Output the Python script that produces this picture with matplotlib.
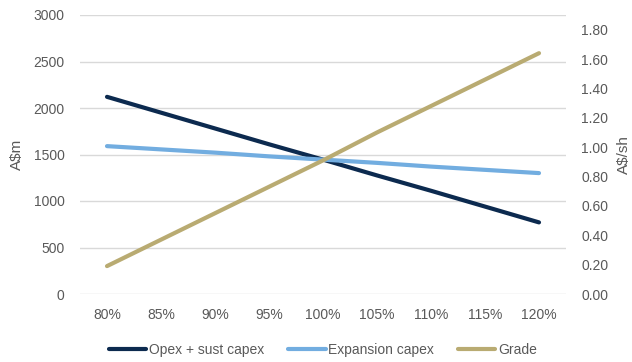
import matplotlib.pyplot as plt
import numpy as np

plt.rcParams['font.family'] = ['Liberation Sans', 'DejaVu Sans']

categorias = ["80%", "85%", "90%", "95%", "100%", "105%", "110%", "115%", "120%"]
opex_sust = [2120, 1950, 1780, 1610, 1445, 1275, 1110, 940, 770]
expansao = [1590, 1555, 1520, 1480, 1445, 1410, 1370, 1335, 1300]
grade = [0.19, 0.37, 0.55, 0.73, 0.91, 1.10, 1.28, 1.46, 1.64]

cinza = "#595959"
x = np.arange(len(categorias))

fig = plt.figure(figsize=(6.32, 3.62), dpi=100)
ax = fig.add_axes([80 / 632, 1 - 294 / 362, 486 / 632, 279 / 362])
ax2 = ax.twinx()

l1, = ax.plot(x, opex_sust, color="#0c2a4f", lw=3, solid_capstyle="round", label="Opex + sust capex")
l2, = ax.plot(x, expansao, color="#72ade0", lw=3, solid_capstyle="round", label="Expansion capex")
l3, = ax2.plot(x, grade, color="#b9ab72", lw=3, solid_capstyle="round", label="Grade")

ax.set_xlim(-0.5, len(categorias) - 0.5)
ax.set_ylim(0, 3000)
ax.set_yticks(range(0, 3001, 500))
ax2.set_ylim(0, 1.9)
ax2.set_yticks(np.arange(0, 1.81, 0.2))
ax2.set_yticklabels(["{:.2f}".format(v) for v in np.arange(0, 1.81, 0.2)])
ax.set_xticks(x)
ax.set_xticklabels(categorias)

ax.grid(axis="y", color="#d9d9d9", lw=1)
ax.set_axisbelow(True)
for a in (ax, ax2):
    for s in a.spines.values():
        s.set_visible(False)
    a.tick_params(length=0, labelsize=10, colors=cinza)
ax.tick_params(axis="y", pad=11)
ax.tick_params(axis="x", pad=10)
ax2.tick_params(axis="y", pad=11)

ax.set_ylabel("A$m", fontsize=11, color=cinza, labelpad=7)
ax2.set_ylabel("A$/sh", fontsize=11, color=cinza, labelpad=6)

fig.legend(handles=[l1, l2, l3], loc="center", bbox_to_anchor=(323 / 632, 1 - 350 / 362),
           ncol=3, frameon=False, fontsize=10, handlelength=2.7, handletextpad=0.2,
           columnspacing=1.7, labelcolor=cinza)

plt.savefig("out.png", dpi=100)
plt.close()
